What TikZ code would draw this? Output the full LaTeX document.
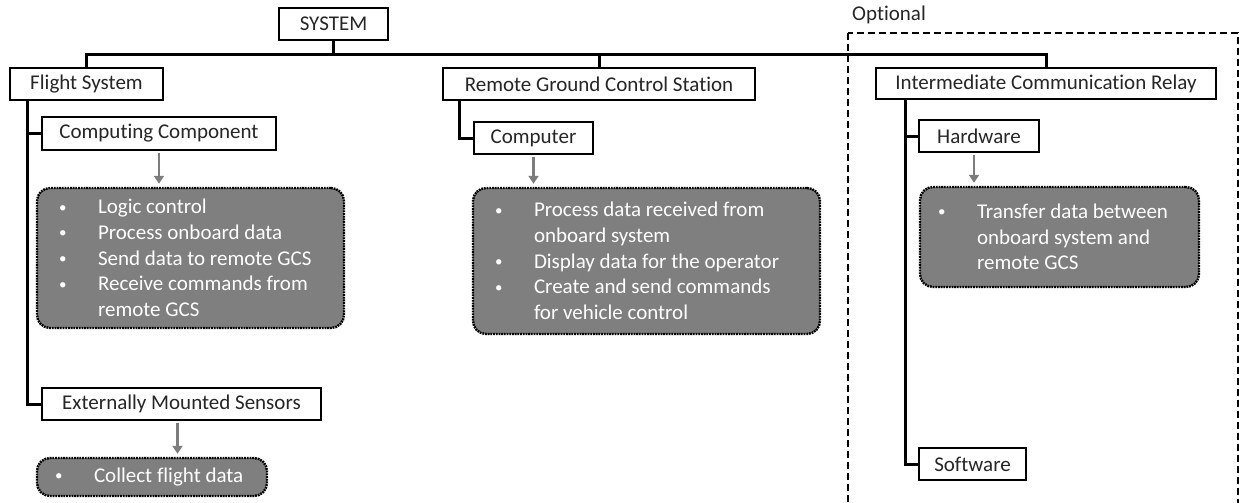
\documentclass[tikz,border=0pt]{standalone}
\usepackage{fontspec}
\setmainfont{Carlito}[Ligatures=NoCommon]
\usetikzlibrary{arrows.meta,calc}
\definecolor{taskgray}{RGB}{127,127,127}
\definecolor{arrowgray}{RGB}{125,125,125}
\newcommand\bul{\makebox[40pt][l]{\hspace*{1pt}\raisebox{1.8pt}{\fontsize{15}{15}\selectfont •}}}
\newcommand\ind{\hspace*{40pt}}
\tikzset{
  label box/.style={draw=black, line width=1.2pt, fill=white, inner sep=0pt,
    font=\fontsize{21}{25.5}\selectfont, text=black!85},
  task box/.style={draw=black, fill=taskgray, line width=2.4pt,
    dash pattern=on 1.8pt off 0.9pt, rounded corners=13pt,
    text=white, align=flush left, inner ysep=0pt,
    font=\fontsize{21}{25.7}\selectfont},
  tree/.style={line width=3pt, black},
  feed/.style={line width=2.6pt, arrowgray, -{Triangle[width=10pt,length=8pt]},
    shorten >=3pt, shorten <=2pt},
}
\begin{document}
\begin{tikzpicture}[x=1pt,y=-1pt]
\useasboundingbox (0,0) rectangle (1239,503);

% optional relay area
\draw[line width=1.2pt, dash pattern=on 7pt off 4pt] (848,33) rectangle (1238,520);
\node[anchor=west, inner sep=0pt, font=\fontsize{21}{25}\selectfont, text=black!85]
  (opt) at (852,15) {Optional};

% hierarchy boxes
\node[label box, minimum width=109pt, minimum height=32pt] (sys)  at (333.5,24)  {SYSTEM};
\node[label box, minimum width=153pt, minimum height=32pt] (fs)   at (86.5,84)   {Flight System};
\node[label box, minimum width=312pt, minimum height=32pt] (rgcs) at (599,84)    {Remote Ground Control Station};
\node[label box, minimum width=340pt, minimum height=31pt] (icr)  at (1046,83.5) {Intermediate Communication Relay};
\node[label box, minimum width=234pt, minimum height=33pt] (cc)   at (159,133.5) {Computing Component};
\node[label box, minimum width=119pt, minimum height=32pt] (comp) at (533.5,138)  {Computer};
\node[label box, minimum width=120pt, minimum height=32pt] (hw)   at (979,136)   {Hardware};
\node[label box, minimum width=279pt, minimum height=32pt] (ems)  at (181.5,404) {Externally Mounted Sensors};
\node[label box, minimum width=107pt, minimum height=32pt] (sw)   at (972.5,464) {Software};

% function boxes
\node[task box, inner xsep=21pt, text width=265pt, minimum height=140pt] (g1) at (190.5,258)
  {\bul Logic control\\\bul Process onboard data\\\bul Send data to remote GCS\\\bul Receive commands from\\\ind remote GCS};
\node[task box, inner xsep=21pt, text width=305pt, minimum height=146pt] (g2) at (646.5,261)
  {\bul Process data received from\\\ind onboard system\\\bul Display data for the operator\\\bul Create and send commands\\\ind for vehicle control};
\node[task box, inner xsep=17pt, text width=245pt, minimum height=100pt] (g3) at (1059.5,237)
  {\bul Transfer data between\\\ind onboard system and\\\ind remote GCS};
\node[task box, inner xsep=17pt, text width=196pt, minimum height=38pt] (g4) at (152,477)
  {\bul Collect flight data};

% main bus
\coordinate (bus) at (0,55);
\draw[tree] (sys.south) -- (sys.south |- bus);
\draw[tree] (fs.north) |- (bus -| icr.north) -- (icr.north);
\draw[tree] (rgcs.north) -- (rgcs.north |- bus);

% branches
\coordinate (fsx) at (27,0);
\draw[tree] (fs.south -| fsx) |- (ems.west);
\draw[tree] (cc.west -| fsx) -- (cc.west);
\coordinate (rgx) at (459,0);
\draw[tree] (rgcs.south -| rgx) |- (comp.west);
\coordinate (icx) at (905,0);
\draw[tree] (icr.south -| icx) |- (sw.west);
\draw[tree] (hw.west -| icx) -- (hw.west);

% component to function arrows
\draw[feed] (cc.south)   -- (cc.south |- g1.north);
\draw[feed] (comp.south) -- (comp.south |- g2.north);
\draw[feed] ([xshift=-5pt]hw.south) -- ([xshift=-5pt]hw.south |- g3.north);
\draw[feed] ([xshift=-4pt]ems.south) -- ([xshift=-4pt]ems.south |- g4.north);
\end{tikzpicture}
\end{document}
